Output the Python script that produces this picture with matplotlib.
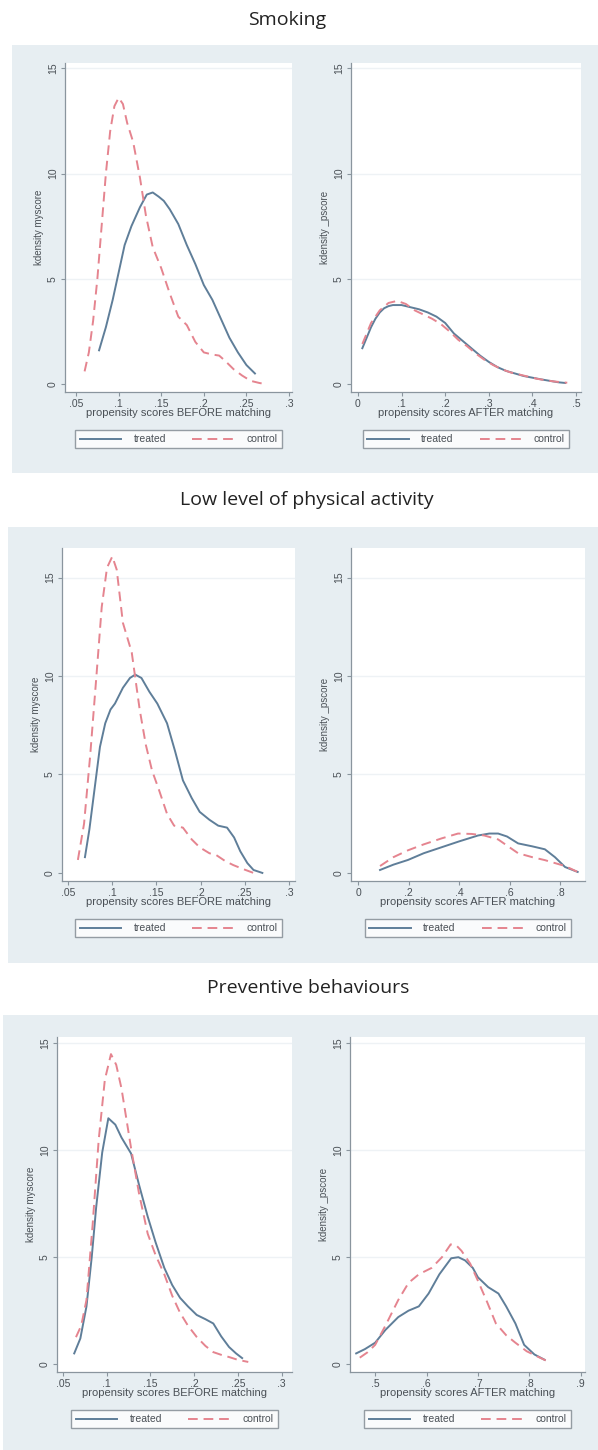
import matplotlib
matplotlib.use('Agg')
import matplotlib.pyplot as plt
from matplotlib.patches import Rectangle

# --- data (kernel density curves) ---
# Smoking, BEFORE matching
smk_b_tr_x = [0.077, 0.085, 0.093, 0.100, 0.107, 0.115, 0.125, 0.133, 0.140, 0.147, 0.153, 0.160, 0.170, 0.180, 0.190, 0.200, 0.210, 0.220, 0.230, 0.240, 0.250, 0.260]
smk_b_tr_y = [1.6, 2.7, 4.0, 5.3, 6.6, 7.5, 8.4, 9.0, 9.1, 8.9, 8.7, 8.3, 7.6, 6.6, 5.7, 4.7, 4.0, 3.1, 2.2, 1.5, 0.9, 0.5]
smk_b_co_x = [0.060, 0.065, 0.070, 0.075, 0.080, 0.085, 0.090, 0.095, 0.100, 0.105, 0.110, 0.117, 0.125, 0.132, 0.140, 0.150, 0.160, 0.170, 0.180, 0.190, 0.200, 0.210, 0.218, 0.225, 0.235, 0.245, 0.255, 0.265, 0.272]
smk_b_co_y = [0.6, 1.5, 3.0, 5.0, 7.5, 10.0, 12.0, 13.2, 13.6, 13.3, 12.4, 11.5, 9.8, 8.0, 6.5, 5.5, 4.3, 3.2, 2.8, 2.0, 1.5, 1.4, 1.35, 1.1, 0.7, 0.4, 0.15, 0.05, 0.0]
# Smoking, AFTER matching
smk_a_tr_x = [0.010, 0.020, 0.030, 0.040, 0.050, 0.060, 0.070, 0.080, 0.100, 0.120, 0.140, 0.160, 0.180, 0.200, 0.220, 0.240, 0.260, 0.280, 0.300, 0.320, 0.340, 0.360, 0.380, 0.400, 0.420, 0.440, 0.460, 0.475]
smk_a_tr_y = [1.7, 2.2, 2.7, 3.1, 3.4, 3.6, 3.7, 3.75, 3.75, 3.65, 3.55, 3.4, 3.2, 2.9, 2.4, 2.05, 1.7, 1.35, 1.05, 0.8, 0.62, 0.5, 0.38, 0.3, 0.22, 0.15, 0.08, 0.05]
smk_a_co_x = [0.010, 0.030, 0.050, 0.070, 0.090, 0.110, 0.130, 0.150, 0.170, 0.190, 0.210, 0.230, 0.250, 0.270, 0.290, 0.310, 0.330, 0.350, 0.370, 0.390, 0.410, 0.430, 0.450, 0.470, 0.480]
smk_a_co_y = [1.9, 2.9, 3.5, 3.85, 3.95, 3.8, 3.5, 3.3, 3.1, 2.85, 2.5, 2.1, 1.8, 1.45, 1.15, 0.9, 0.7, 0.55, 0.45, 0.35, 0.25, 0.18, 0.12, 0.08, 0.06]

# Low level of physical activity, BEFORE matching
pa_b_tr_x = [0.069, 0.074, 0.080, 0.086, 0.092, 0.098, 0.103, 0.112, 0.120, 0.126, 0.133, 0.142, 0.151, 0.162, 0.171, 0.180, 0.190, 0.199, 0.210, 0.220, 0.230, 0.238, 0.245, 0.253, 0.260, 0.270]
pa_b_tr_y = [0.8, 2.2, 4.3, 6.4, 7.6, 8.3, 8.6, 9.4, 9.9, 10.07, 9.9, 9.2, 8.6, 7.6, 6.2, 4.7, 3.8, 3.1, 2.7, 2.4, 2.3, 1.8, 1.1, 0.5, 0.15, 0.0]
pa_b_co_x = [0.061, 0.068, 0.075, 0.082, 0.088, 0.094, 0.100, 0.105, 0.112, 0.122, 0.131, 0.138, 0.145, 0.153, 0.162, 0.170, 0.180, 0.190, 0.199, 0.210, 0.218, 0.228, 0.237, 0.248, 0.260]
pa_b_co_y = [0.66, 2.5, 6.0, 10.0, 13.5, 15.5, 16.07, 15.4, 12.7, 11.2, 8.3, 6.5, 5.2, 4.2, 3.0, 2.4, 2.3, 1.7, 1.3, 1.0, 0.9, 0.6, 0.4, 0.2, 0.0]
# Low level of physical activity, AFTER matching
pa_a_tr_x = [0.087, 0.140, 0.198, 0.260, 0.330, 0.400, 0.475, 0.520, 0.555, 0.590, 0.634, 0.690, 0.740, 0.780, 0.820, 0.870]
pa_a_tr_y = [0.15, 0.42, 0.66, 1.0, 1.3, 1.6, 1.9, 2.0, 2.0, 1.85, 1.5, 1.35, 1.2, 0.8, 0.3, 0.05]
pa_a_co_x = [0.087, 0.140, 0.198, 0.260, 0.330, 0.396, 0.450, 0.500, 0.555, 0.600, 0.634, 0.690, 0.740, 0.780, 0.820, 0.870]
pa_a_co_y = [0.35, 0.8, 1.15, 1.45, 1.75, 2.0, 1.98, 1.9, 1.7, 1.3, 1.0, 0.8, 0.65, 0.5, 0.35, 0.05]

# Preventive behaviours, BEFORE matching
pb_b_tr_x = [0.063, 0.070, 0.077, 0.083, 0.088, 0.095, 0.102, 0.110, 0.117, 0.128, 0.137, 0.147, 0.156, 0.166, 0.175, 0.184, 0.193, 0.203, 0.213, 0.222, 0.231, 0.240, 0.248, 0.255]
pb_b_tr_y = [0.5, 1.2, 2.7, 5.0, 7.3, 9.9, 11.5, 11.2, 10.6, 9.85, 8.4, 6.9, 5.7, 4.5, 3.7, 3.1, 2.7, 2.3, 2.1, 1.9, 1.3, 0.8, 0.5, 0.28]
pb_b_co_x = [0.065, 0.071, 0.077, 0.084, 0.091, 0.098, 0.105, 0.111, 0.117, 0.128, 0.137, 0.147, 0.156, 0.166, 0.175, 0.184, 0.193, 0.203, 0.213, 0.222, 0.232, 0.240, 0.250, 0.262]
pb_b_co_y = [1.26, 1.8, 3.0, 6.5, 10.5, 13.3, 14.5, 14.0, 12.9, 10.1, 8.0, 6.1, 5.1, 4.2, 3.2, 2.4, 1.8, 1.27, 0.85, 0.56, 0.42, 0.33, 0.2, 0.1]
# Preventive behaviours, AFTER matching
pb_a_tr_x = [0.463, 0.480, 0.500, 0.520, 0.545, 0.565, 0.585, 0.604, 0.625, 0.648, 0.662, 0.675, 0.690, 0.700, 0.720, 0.740, 0.755, 0.773, 0.790, 0.810, 0.830]
pb_a_tr_y = [0.5, 0.7, 1.0, 1.6, 2.2, 2.5, 2.7, 3.3, 4.2, 4.95, 5.0, 4.85, 4.5, 4.06, 3.6, 3.3, 2.7, 1.9, 0.9, 0.45, 0.2]
pb_a_co_x = [0.470, 0.485, 0.500, 0.520, 0.545, 0.565, 0.585, 0.610, 0.630, 0.647, 0.658, 0.668, 0.685, 0.700, 0.718, 0.735, 0.755, 0.773, 0.795, 0.818, 0.834]
pb_a_co_y = [0.3, 0.55, 0.9, 1.8, 3.0, 3.8, 4.2, 4.5, 5.0, 5.6, 5.55, 5.3, 4.7, 3.9, 2.9, 1.9, 1.35, 1.0, 0.6, 0.33, 0.15]

titles = ['Smoking', 'Low level of physical activity', 'Preventive behaviours']
before_ticks = [0.05, 0.1, 0.15, 0.2, 0.25, 0.3]
before_labels = ['.05', '.1', '.15', '.2', '.25', '.3']
smk_after_ticks = [0, 0.1, 0.2, 0.3, 0.4, 0.5]
smk_after_labels = ['0', '.1', '.2', '.3', '.4', '.5']
pa_after_ticks = [0, 0.2, 0.4, 0.6, 0.8]
pa_after_labels = ['0', '.2', '.4', '.6', '.8']
pb_after_ticks = [0.5, 0.6, 0.7, 0.8, 0.9]
pb_after_labels = ['.5', '.6', '.7', '.8', '.9']
y_ticks = [0, 5, 10, 15]
y_labels = ['0', '5', '10', '15']

W, H = 598, 1450
TREAT = '#5f7e99'
CTRL = '#e5848f'
AXC = '#8a959e'
BG = '#e7eef2'
TXT = '#4a5056'

plt.rcParams['font.family'] = ['Liberation Sans', 'DejaVu Sans']
fig = plt.figure(figsize=(W / 100, H / 100), dpi=100)


def px_axes(x0, y0, x1, y1):
    # pixel box (top-left origin) -> figure axes
    return fig.add_axes([x0 / W, 1 - y1 / H, (x1 - x0) / W, (y1 - y0) / H])


# background panels and titles
panels = [(12, 45, 473, 20, 287), (8, 527, 963, 500, 307), (3, 1015, 1450, 988, 308)]
for (bx, by0, by1, ty, tx), t in zip(panels, titles):
    fig.patches.append(Rectangle((bx / W, 1 - by1 / H), (W - bx) / W, (by1 - by0) / H,
                                 transform=fig.transFigure, facecolor=BG, edgecolor='none', zorder=-10))
    fig.text(tx / W, 1 - ty / H, t, ha='center', va='center', fontsize=14,
             family=['Open Sans', 'DejaVu Sans'], color='#222222')

specs = [
    # box px, xlim, ylim, xticks, xlabels, ylabel, xlabel, treated, control
    ((65, 63, 292, 392), (0.037, 0.3035), (-0.38, 15.25), before_ticks, before_labels,
     'kdensity myscore', 'propensity scores BEFORE matching',
     (smk_b_tr_x, smk_b_tr_y), (smk_b_co_x, smk_b_co_y)),
    ((351, 63, 581, 392), (-0.016, 0.5115), (-0.38, 15.25), smk_after_ticks, smk_after_labels,
     'kdensity _pscore', 'propensity scores AFTER matching',
     (smk_a_tr_x, smk_a_tr_y), (smk_a_co_x, smk_a_co_y)),
    ((62, 548, 295, 881), (0.043, 0.307), (-0.41, 16.5), before_ticks, before_labels,
     'kdensity myscore', 'propensity scores BEFORE matching',
     (pa_b_tr_x, pa_b_tr_y), (pa_b_co_x, pa_b_co_y)),
    ((351, 548, 585, 881), (-0.028, 0.899), (-0.41, 16.5), pa_after_ticks, pa_after_labels,
     'kdensity _pscore', 'propensity scores AFTER matching',
     (pa_a_tr_x, pa_a_tr_y), (pa_a_co_x, pa_a_co_y)),
    ((57, 1037, 292, 1372), (0.0433, 0.312), (-0.37, 15.3), before_ticks, before_labels,
     'kdensity myscore', 'propensity scores BEFORE matching',
     (pb_b_tr_x, pb_b_tr_y), (pb_b_co_x, pb_b_co_y)),
    ((350, 1037, 585, 1372), (0.451, 0.9085), (-0.37, 15.3), pb_after_ticks, pb_after_labels,
     'kdensity _pscore', 'propensity scores AFTER matching',
     (pb_a_tr_x, pb_a_tr_y), (pb_a_co_x, pb_a_co_y)),
]

for box, xl, yl, xt, xtl, ylab, xlab, tr, co in specs:
    ax = px_axes(*box)
    ax.set_facecolor('white')
    ax.set_xlim(xl)
    ax.set_ylim(yl)
    for yv in [5, 10, 15]:
        ax.axhline(yv, color='#eef2f5', lw=1, zorder=0)
    ax.plot(tr[0], tr[1], color=TREAT, lw=1.4, label='treated')
    ax.plot(co[0], co[1], color=CTRL, lw=1.4, ls=(0, (5, 3)), label='control')
    ax.set_xticks(xt)
    ax.set_xticklabels(xtl)
    ax.set_yticks(y_ticks)
    ax.set_yticklabels(y_labels, rotation=90, va='center')
    ax.tick_params(colors=AXC, labelcolor=TXT, labelsize=7.5, length=3, width=0.8, pad=2)
    for s in ['top', 'right']:
        ax.spines[s].set_visible(False)
    for s in ['left', 'bottom']:
        ax.spines[s].set_color(AXC)
        ax.spines[s].set_linewidth(0.9)
    ax.set_ylabel(ylab, fontsize=7, color=TXT, labelpad=3)
    ax.set_xlabel(xlab, fontsize=8, color=TXT, labelpad=-1)
    h = box[3] - box[1]
    leg = ax.legend(loc='upper center', bbox_to_anchor=(0.5, -(38 / h)), ncol=2, frameon=True,
                    fancybox=False, edgecolor='#7d868e', fontsize=7.5, handlelength=4,
                    columnspacing=2.5, handletextpad=1.2, borderpad=0.4, borderaxespad=0)
    leg.get_frame().set_linewidth(1.0)
    for t in leg.get_texts():
        t.set_color(TXT)

fig.savefig('out.png', dpi=100, facecolor='white')
